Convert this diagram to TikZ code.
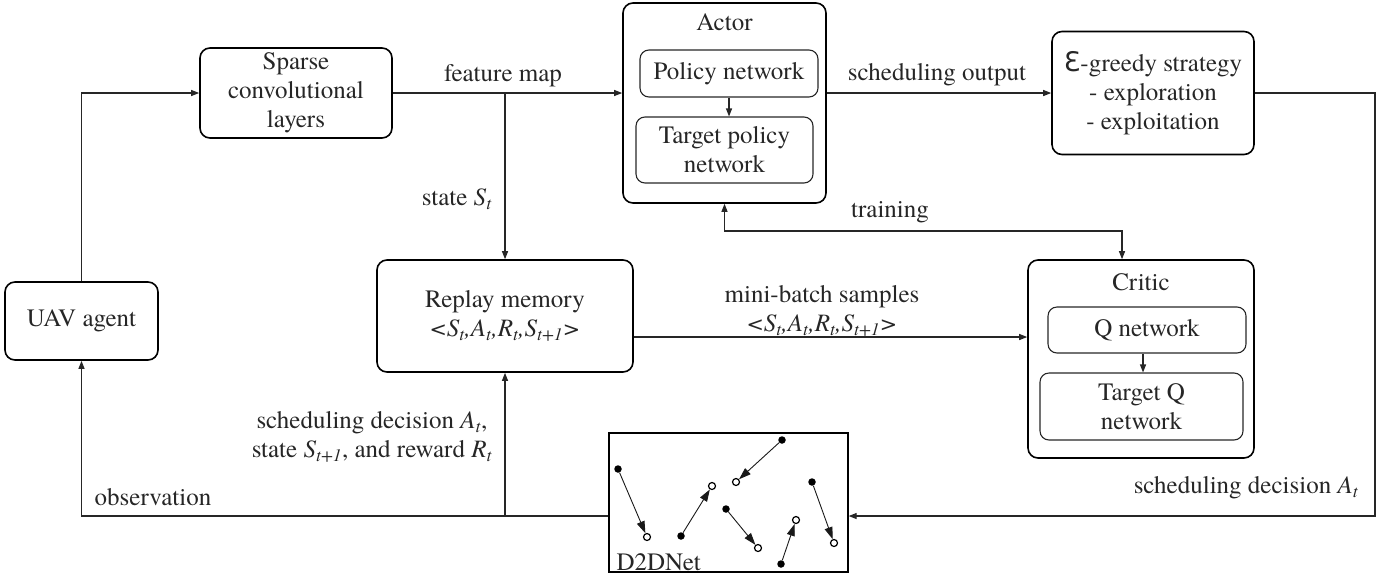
\documentclass[tikz,border=0pt]{standalone}
\usepackage{fontspec}
\setmainfont{texgyretermes}[Extension=.otf,UprightFont=*-regular,ItalicFont=*-italic,BoldFont=*-bold,BoldItalicFont=*-bolditalic]
\newfontfamily\epsf{DejaVu Sans}
\usetikzlibrary{arrows.meta}
\newcommand{\iv}[2]{\textit{#1}\textsubscript{\textit{#2}}}
\begin{document}
\begin{tikzpicture}[x=1pt,y=-1pt,
  every node/.style={text=black!85, font=\fontsize{25}{29}\selectfont},
  box/.style={draw=black, line width=1.6pt, rounded corners=10pt, align=center, inner sep=0pt},
  ibox/.style={draw=black!85, line width=1.1pt, rounded corners=9pt, align=center, inner sep=0pt},
  con/.style={draw=black!85, line width=1.1pt, -{Triangle[length=8pt,width=6pt]}},
  con2/.style={draw=black!85, line width=1.1pt, {Triangle[length=8pt,width=6pt]}-{Triangle[length=8pt,width=6pt]}},
  fdot/.style={circle, fill=black, draw=none, inner sep=0pt, minimum size=7.5pt},
  odot/.style={circle, fill=white, draw=black, line width=1.2pt, inner sep=0pt, minimum size=7pt},
  darr/.style={draw=black!90, line width=0.9pt, -{Triangle[length=12pt,width=8pt]}}
]
\useasboundingbox (0,0) rectangle (1391,584);

% boxes
\node[box,minimum width=153pt,minimum height=78pt] (uav) at (81.5,321) {UAV agent};
\node[box,minimum width=192pt,minimum height=90pt] (sparse) at (296,93) {Sparse\\convolutional\\layers};
\node[box,minimum width=203pt,minimum height=200pt] (actor) at (724.5,103) {};
\node (actort) at (724.5,22) {Actor};
\node[ibox,minimum width=178pt,minimum height=47pt] (policy) at (729,73.5) {Policy network};
\node[ibox,minimum width=177pt,minimum height=66pt] (tpolicy) at (724.5,150) {Target policy\\network};
\node[box,minimum width=202pt,minimum height=123pt] (eps) at (1153,93) {{\epsf\fontsize{27}{29}\selectfont Ɛ}-greedy strategy\\- exploration\\- exploitation};
\node[box,minimum width=256pt,minimum height=112pt] (replay) at (505,316) {Replay memory\\{\itshape <S\textsubscript{t},A\textsubscript{t},R\textsubscript{t},S\textsubscript{t+1}>}};
\node[box,minimum width=226pt,minimum height=198pt] (critic) at (1141,359) {};
\node (critict) at (1141,282) {Critic};
\node[ibox,minimum width=198pt,minimum height=46pt] (qnet) at (1147,330) {Q network};
\node[ibox,minimum width=203pt,minimum height=67pt] (tq) at (1141.5,406.5) {Target Q\\network};
\node[draw=black, line width=1.3pt, minimum width=239pt, minimum height=139pt, inner sep=0pt] (d2d) at (728.5,502.5) {};
\node[anchor=base west] (d2dt) at (613,570) {D2DNet};

% connectors
\coordinate (fm) at (505,93);
\draw[con] (sparse.east) -- (sparse.east -| actor.west);
\draw[con] (fm) -- (replay.north);
\draw[con] (actor.east |- eps.west) -- (eps.west);
\draw[con] (uav.north) |- (sparse.west);
\coordinate (rc) at (1375,516);
\draw[con] (eps.east) -| (rc) -- (rc -| d2d.east);
\draw[con] (rc -| d2d.west) -| (uav.south);
\coordinate (ob) at (505,516);
\draw[con] (ob) -- (replay.south);
\coordinate (mb) at (700,337);
\draw[con] (mb -| replay.east) -- (mb -| critic.west);
\coordinate (tr) at (1122,231);
\draw[con2] (actor.south) |- (tr) -- (tr |- critic.north);
\draw[con] (policy.south) -- (policy.south |- tpolicy.north);
\draw[con] (qnet.south -| 1143,0) -- (tq.north -| 1143,0);

% labels
\node (lfm) at (503,76) {feature map};
\node (lst) at (457,199) {state \iv{S}{t}};
\node (lso) at (937,75) {scheduling output};
\node (ltr) at (890,212) {training};
\node[align=center] (lmb) at (822,311) {mini-batch samples\\{\itshape <S\textsubscript{t},A\textsubscript{t},R\textsubscript{t},S\textsubscript{t+1}>}};
\node[align=center] (lsd) at (372,437) {scheduling decision \iv{A}{t},\\state \iv{S}{t+1}, and reward \iv{R}{t}};
\node (lob) at (153,497) {observation};
\node[anchor=east] (lsd2) at (1362,488) {scheduling decision \iv{A}{t}};

% D2D network links
\node[fdot] (f1) at (618,469) {};
\node[odot] (o1) at (647,537) {};
\node[fdot] (f2) at (681,536) {};
\node[odot] (o2) at (712,486) {};
\node[fdot] (f3) at (782,440) {};
\node[odot] (o3) at (736,482) {};
\node[fdot] (f4) at (726,509) {};
\node[odot] (o4) at (758,548) {};
\node[fdot] (f5) at (781,564) {};
\node[odot] (o5) at (796,520) {};
\node[fdot] (f6) at (812,482) {};
\node[odot] (o6) at (834,543) {};
\foreach \i in {1,...,6} {\draw[darr] (f\i) -- (o\i);}
\end{tikzpicture}
\end{document}
